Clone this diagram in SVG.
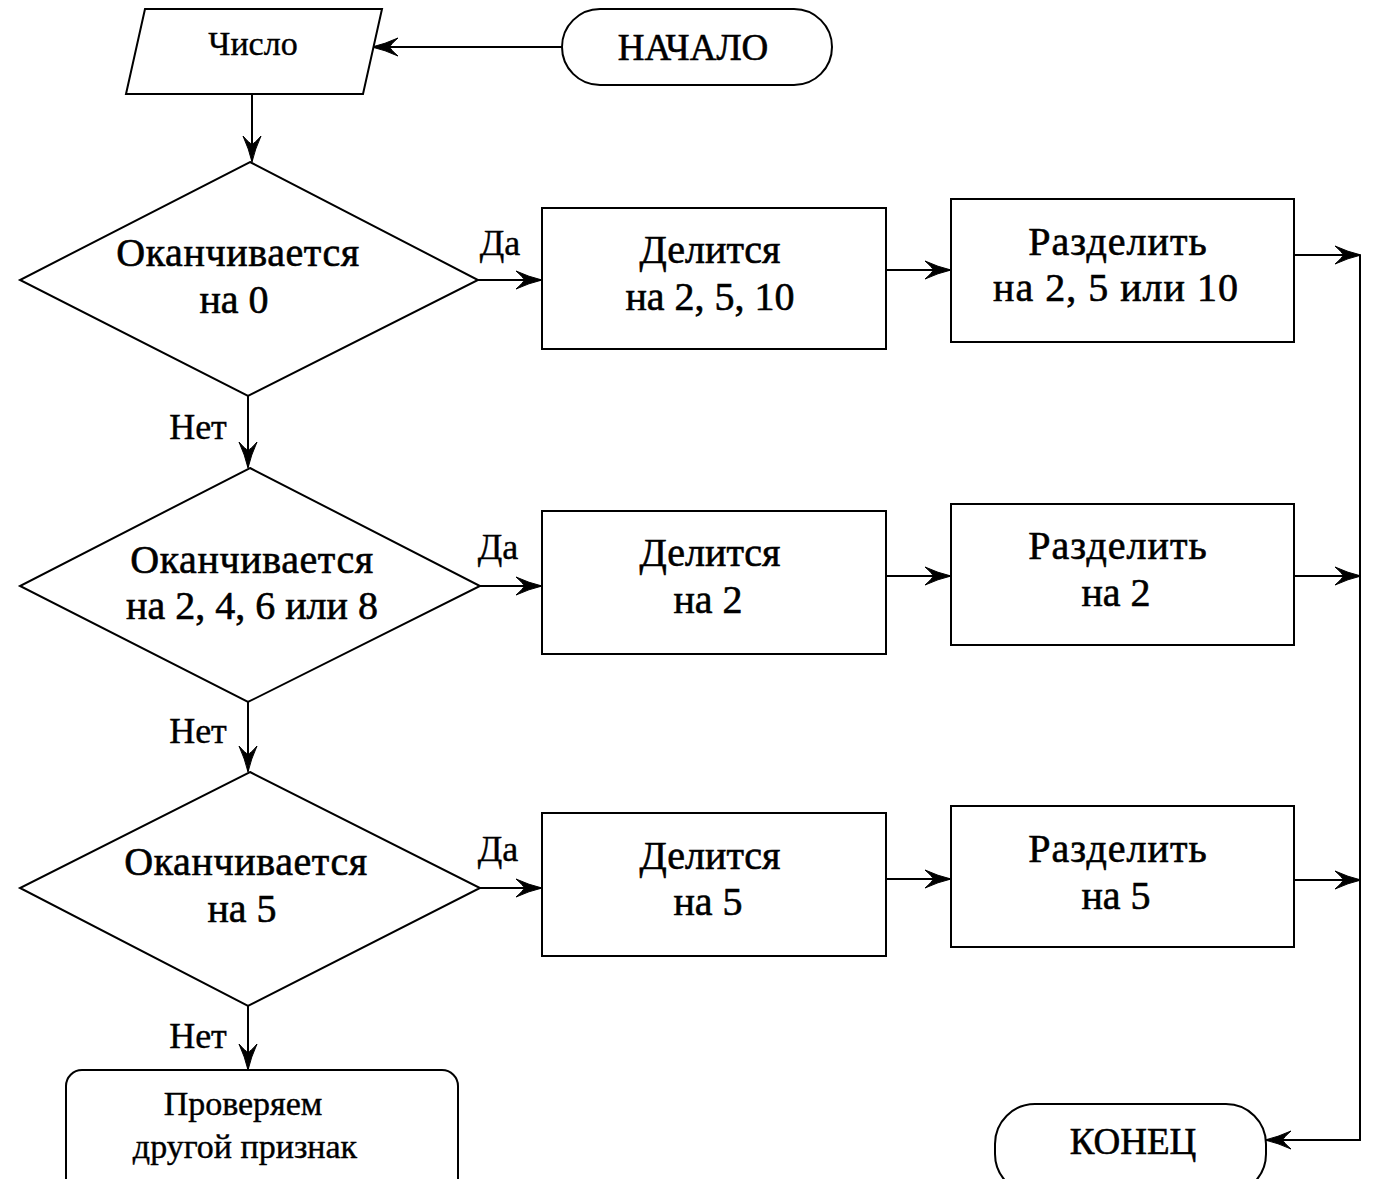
<svg xmlns="http://www.w3.org/2000/svg" width="1374" height="1179" viewBox="0 0 1374 1179">
<defs>
<style>
.s{fill:#fff;stroke:#000;stroke-width:2}
.c{fill:none;stroke:#000;stroke-width:2}
text{font-family:"Liberation Serif","Times New Roman",serif;fill:#000;text-anchor:middle;stroke:#000;stroke-width:0.6}
.t{font-size:40px}
.w{letter-spacing:1px}
.e{font-size:37px}
.m{font-size:34px;stroke-width:0.4}
.l{font-size:36px;stroke-width:0.4}
</style>
<marker id="a" markerUnits="userSpaceOnUse" markerWidth="26" markerHeight="20" viewBox="0 0 26 20" refX="25" refY="10" orient="auto">
<path d="M0,1 Q13,7 26,10 Q13,13 0,19 Q8,12 8,10 Q8,8 0,1 z" fill="#000" stroke="#000" stroke-width="1"/>
</marker>
</defs>
<g id="connectors">
<line class="c" x1="562" y1="47" x2="373" y2="47" marker-end="url(#a)"/>
<line class="c" x1="252" y1="94" x2="252" y2="161" marker-end="url(#a)"/>
<line class="c" x1="478" y1="280" x2="541" y2="280" marker-end="url(#a)"/>
<line class="c" x1="886" y1="270" x2="950" y2="270" marker-end="url(#a)"/>
<line class="c" x1="1294" y1="255" x2="1360" y2="255" marker-end="url(#a)"/>
<line class="c" x1="248" y1="396" x2="248" y2="467" marker-end="url(#a)"/>
<line class="c" x1="480" y1="586" x2="541" y2="586" marker-end="url(#a)"/>
<line class="c" x1="886" y1="576" x2="950" y2="576" marker-end="url(#a)"/>
<line class="c" x1="1294" y1="576" x2="1360" y2="576" marker-end="url(#a)"/>
<line class="c" x1="248" y1="702" x2="248" y2="771" marker-end="url(#a)"/>
<line class="c" x1="480" y1="888" x2="541" y2="888" marker-end="url(#a)"/>
<line class="c" x1="886" y1="879" x2="950" y2="879" marker-end="url(#a)"/>
<line class="c" x1="1294" y1="880" x2="1360" y2="880" marker-end="url(#a)"/>
<line class="c" x1="248" y1="1006" x2="248" y2="1069" marker-end="url(#a)"/>
<polyline class="c" points="1360,255 1360,1140 1266,1140" marker-end="url(#a)"/>
<text class="l" x="500" y="255">Да</text>
<text class="l" x="498" y="559">Да</text>
<text class="l" x="498" y="861">Да</text>
<text class="l" x="198" y="439">Нет</text>
<text class="l" x="198" y="743">Нет</text>
<text class="l" x="198" y="1048">Нет</text>
</g>
<g id="start">
<rect class="s" x="562" y="9" width="270" height="76" rx="38"/>
<text class="e" x="693" y="60">НАЧАЛО</text>
</g>
<g id="input">
<polygon class="s" points="145,9 382,9 363,94 126,94"/>
<text class="m" x="253" y="55">Число</text>
</g>
<g id="d1">
<polygon class="s" points="250,162 478,280 248,396 20,280"/>
<text class="t" x="238" y="266" letter-spacing="0.6">Оканчивается</text>
<text class="t" x="234" y="313">на 0</text>
</g>
<g id="b1">
<rect class="s" x="542" y="208" width="344" height="141"/>
<text class="t" x="710" y="263">Делится</text>
<text class="t" x="710" y="310">на 2, 5, 10</text>
</g>
<g id="r1">
<rect class="s" x="951" y="199" width="343" height="143"/>
<text class="t w" x="1118" y="255">Разделить</text>
<text class="t w" x="1116" y="301">на 2, 5 или 10</text>
</g>
<g id="d2">
<polygon class="s" points="250,468 480,586 248,702 20,586"/>
<text class="t" x="252" y="573" letter-spacing="0.6">Оканчивается</text>
<text class="t" x="252" y="619">на 2, 4, 6 или 8</text>
</g>
<g id="b2">
<rect class="s" x="542" y="511" width="344" height="143"/>
<text class="t" x="710" y="566">Делится</text>
<text class="t" x="708" y="613">на 2</text>
</g>
<g id="r2">
<rect class="s" x="951" y="504" width="343" height="141"/>
<text class="t w" x="1118" y="559">Разделить</text>
<text class="t" x="1116" y="606">на 2</text>
</g>
<g id="d3">
<polygon class="s" points="250,772 480,888 248,1006 20,888"/>
<text class="t" x="246" y="875" letter-spacing="0.6">Оканчивается</text>
<text class="t" x="242" y="922">на 5</text>
</g>
<g id="b3">
<rect class="s" x="542" y="813" width="344" height="143"/>
<text class="t" x="710" y="869">Делится</text>
<text class="t" x="708" y="915">на 5</text>
</g>
<g id="r3">
<rect class="s" x="951" y="806" width="343" height="141"/>
<text class="t w" x="1118" y="862">Разделить</text>
<text class="t" x="1116" y="909">на 5</text>
</g>
<g id="other">
<rect class="s" x="66" y="1070" width="392" height="130" rx="16"/>
<text class="m" x="243" y="1115">Проверяем</text>
<text class="m" x="245" y="1158">другой признак</text>
</g>
<g id="end">
<rect class="s" x="995" y="1104" width="271" height="90" rx="40"/>
<text class="e" x="1133" y="1154">КОНЕЦ</text>
</g>
</svg>
